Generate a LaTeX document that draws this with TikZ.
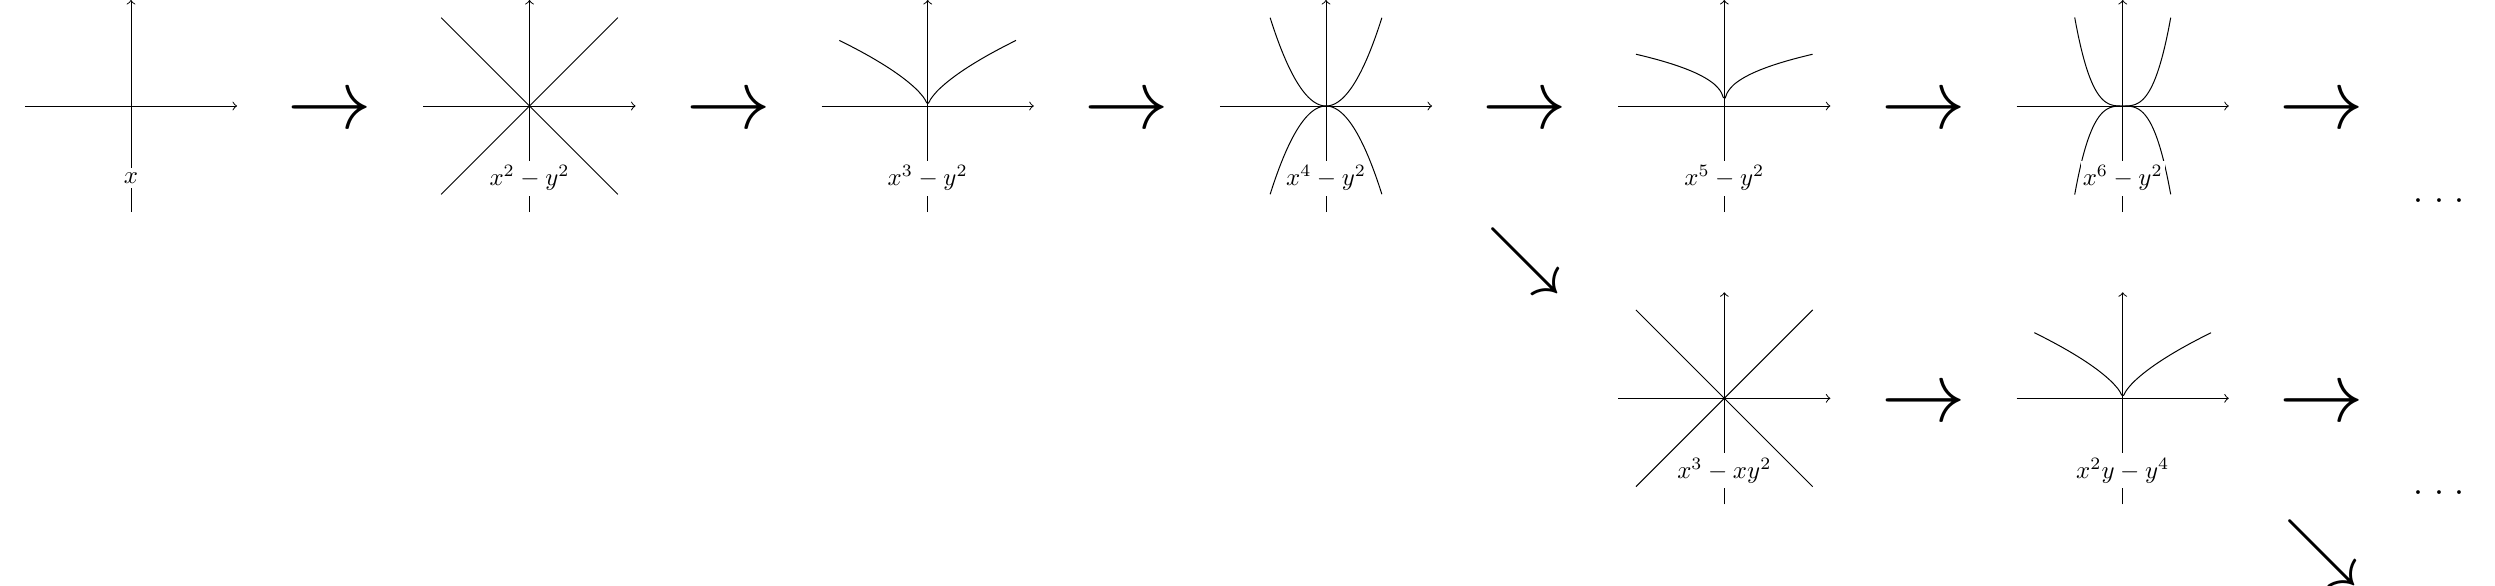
\documentclass[tikz,border=0pt]{standalone}
\begin{document}
\begin{tikzpicture}[x=0.40244pt,y=-0.40244pt,
  axis/.style={->, line width=0.4pt},
  curve/.style={line width=0.4pt},
  lbl/.style={fill=white, inner xsep=0.8pt, inner ysep=2pt},
  bigarrow/.style={scale=3.4, inner sep=0pt},
  diagarrow/.style={scale=3, inner sep=0pt},
  dotsnode/.style={font=\Large, inner sep=0pt}]
\useasboundingbox (0,0) rectangle (2495,585);
\newcommand\myaxes{\draw[axis] (-1.5,0) -- (1.5,0); \draw[axis] (0,-1.5) -- (0,1.5);}
% plot 1: x
\begin{scope}[shift={(131,106)}, x=1cm, y=1cm]
  \myaxes
  \draw[curve] (-1.25,0) -- (1.25,0);
  \node[lbl] (l1) at (0,-1.02) {$x$};
\end{scope}
% plot 2: x^2-y^2
\begin{scope}[shift={(529.5,106)}, x=1cm, y=1cm]
  \myaxes
  \draw[curve] (-1.25,-1.25) -- (1.25,1.25);
  \draw[curve] (-1.25,1.25) -- (1.25,-1.25);
  \node[lbl] (l2) at (0,-1.02) {$x^2-y^2$};
\end{scope}
% plot 3: x^3-y^2
\begin{scope}[shift={(927.7,106)}, x=1cm, y=1cm]
  \myaxes
  \draw[curve] plot[domain=-1.25:1.25, samples=100, smooth] (\x, {0.8*abs(\x)^(2/3)});
  \node[lbl] (l3) at (0,-1.02) {$x^3-y^2$};
\end{scope}
% plot 4: x^4-y^2
\begin{scope}[shift={(1326,106)}, x=1cm, y=1cm]
  \myaxes
  \draw[curve] plot[domain=-0.79:0.79, samples=60, smooth] (\x, {2*\x*\x});
  \draw[curve] plot[domain=-0.79:0.79, samples=60, smooth] (\x, {-2*\x*\x});
  \node[lbl] (l4) at (0,-1.02) {$x^4-y^2$};
\end{scope}
% plot 5: x^5-y^2
\begin{scope}[shift={(1724.3,106)}, x=1cm, y=1cm]
  \myaxes
  \draw[curve] plot[domain=-1.25:1.25, samples=100, smooth] (\x, {0.67*abs(\x)^(0.4)});
  \node[lbl] (l5) at (0,-1.02) {$x^5-y^2$};
\end{scope}
% plot 6: x^6-y^2
\begin{scope}[shift={(2122.7,106)}, x=1cm, y=1cm]
  \myaxes
  \draw[curve] plot[domain=-0.679:0.679, samples=60, smooth] (\x, {4*abs(\x)^3});
  \draw[curve] plot[domain=-0.679:0.679, samples=60, smooth] (\x, {-4*abs(\x)^3});
  \node[lbl] (l6) at (0,-1.02) {$x^6-y^2$};
\end{scope}
% row 2 plot 1: x^3-xy^2
\begin{scope}[shift={(1724.3,398.3)}, x=1cm, y=1cm]
  \myaxes
  \draw[curve] (-1.25,-1.25) -- (1.25,1.25);
  \draw[curve] (-1.25,1.25) -- (1.25,-1.25);
  \node[lbl] (l7) at (0,-1.02) {$x^3-xy^2$};
\end{scope}
% row 2 plot 2: x^2y-y^4
\begin{scope}[shift={(2122.7,398.3)}, x=1cm, y=1cm]
  \myaxes
  \draw[curve] plot[domain=-1.25:1.25, samples=100, smooth] (\x, {0.8*abs(\x)^(2/3)});
  \node[lbl] (l8) at (0,-1.02) {$x^2y-y^4$};
\end{scope}
% big arrows
\node[bigarrow] (a1) at (330,113) {$\rightarrow$};
\node[bigarrow] (a2) at (728.6,113) {$\rightarrow$};
\node[bigarrow] (a3) at (1126.9,113) {$\rightarrow$};
\node[bigarrow] (a4) at (1525.2,113) {$\rightarrow$};
\node[bigarrow] (a5) at (1923.5,113) {$\rightarrow$};
\node[bigarrow] (a6) at (2321.8,113) {$\rightarrow$};
\node[bigarrow] (a7) at (1923.5,406) {$\rightarrow$};
\node[bigarrow] (a8) at (2321.8,406) {$\rightarrow$};
\node[diagarrow] (d1) at (1525,261) {$\searrow$};
\node[diagarrow] (d2) at (2321.6,553) {$\searrow$};
% dots
\node[dotsnode] (e1) at (2439,201.7) {${\cdot}\hskip4.4pt{\cdot}\hskip4.4pt{\cdot}$};
\node[dotsnode] (e2) at (2439,493.3) {${\cdot}\hskip4.4pt{\cdot}\hskip4.4pt{\cdot}$};
\end{tikzpicture}
\end{document}
